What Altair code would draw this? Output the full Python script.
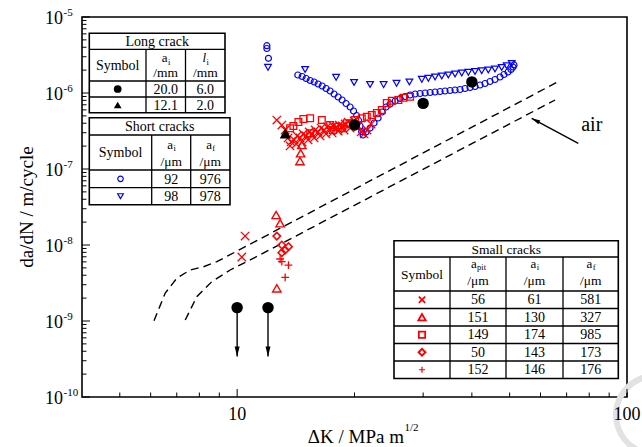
import altair as alt
import pandas as pd

FONT = "Liberation Serif"
BLUE = "#0000ff"
RED = "#ff0000"
W, H = 545, 380  # plot area in pixels

# ---------------- data: dK [MPa m^1/2] and da/dN [m/cycle] ----------------
# Short crack, a_i = 92 um (open circles)
sc92_dk = [11.92, 11.92, 12.03, 14.31, 14.68, 15.03, 15.39, 15.76, 16.13, 16.52, 16.91, 17.32,
           17.73, 18.16, 18.59, 19.03, 19.49, 19.89, 20.25, 20.49, 20.67, 20.86,
           21.04, 21.42, 21.93, 22.45, 22.99, 23.54, 24.10, 24.68, 25.42, 26.18, 26.97, 27.77,
           28.61, 29.46, 30.35, 31.26, 32.19, 33.15, 34.14, 35.17, 36.22, 37.30, 38.42, 39.57,
           40.76, 41.98, 43.24, 44.53, 45.86, 47.24, 48.36, 49.52, 50.41, 51.01, 51.31]
sc92_rate = [4.19e-6, 3.85e-6, 2.86e-6, 1.725e-6, 1.649e-6, 1.552e-6, 1.461e-6, 1.395e-6, 1.314e-6,
             1.236e-6, 1.146e-6, 1.062e-6, 9.70e-7, 8.86e-7, 8.09e-7, 7.27e-7, 6.54e-7, 5.80e-7,
             5.06e-7, 4.35e-7, 3.68e-7, 3.11e-7,
             2.80e-7, 3.07e-7, 3.46e-7, 4.03e-7, 4.69e-7, 5.62e-7, 6.54e-7, 7.16e-7, 7.84e-7,
             8.46e-7, 8.99e-7, 9.41e-7, 9.70e-7, 9.85e-7, 1.0e-6, 1.015e-6, 1.031e-6, 1.046e-6,
             1.062e-6, 1.079e-6, 1.095e-6, 1.112e-6, 1.146e-6, 1.181e-6, 1.218e-6, 1.275e-6,
             1.334e-6, 1.416e-6, 1.505e-6, 1.624e-6, 1.751e-6, 1.889e-6, 2.04e-6, 2.20e-6, 2.34e-6]

# Short crack, a_i = 98 um (open down-triangles)
sc98_dk = [12.0, 14.94, 17.94, 19.95, 21.93, 23.75, 25.64, 27.66, 29.76, 30.94, 32.19, 33.49,
           34.82, 36.22, 37.68, 39.18, 40.76, 42.40, 44.09, 45.86, 47.71, 49.14, 50.62]
sc98_rate = [2.18e-6, 2.04e-6, 1.61e-6, 1.375e-6, 1.294e-6, 1.29e-6, 1.342e-6, 1.395e-6, 1.514e-6,
             1.561e-6, 1.624e-6, 1.674e-6, 1.725e-6, 1.778e-6, 1.833e-6, 1.872e-6, 1.918e-6,
             1.965e-6, 2.008e-6, 2.07e-6, 2.166e-6, 2.288e-6, 2.445e-6]

# Long crack a_i = 20.0 mm (filled circles); the first two did not grow
lc20_dk = [10, 12, 20, 30, 40]
lc20_rate = [1.5e-9, 1.5e-9, 3.8e-7, 7.3e-7, 1.4e-6]
runout_dk = [10, 12]
runout_from = 1.5e-9
runout_to = 3.4e-10

# Long crack a_i = 12.1 mm (filled triangle)
lc12_dk = [13.3]
lc12_rate = [2.93e-7]

# Small cracks
sm56_dk = [12.64, 13.02, 13.28, 13.51, 13.75, 14.0, 14.25, 14.51, 14.77, 15.03, 15.30, 15.57,
           15.85, 16.13, 16.42, 16.71, 17.01, 17.32, 17.62, 17.94, 18.26, 18.59, 18.92, 19.26,
           19.61, 19.95, 20.43, 20.79, 21.17, 21.54, 22.06, 10.48, 10.28,
           13.67, 14.17, 14.68, 15.21, 15.76, 16.33, 16.91, 17.52, 18.16, 18.81, 19.49]
sm56_rate = [4.41e-7, 3.79e-7, 3.26e-7, 2.56e-7, 2.27e-7, 2.41e-7, 2.72e-7, 2.56e-7, 2.89e-7,
             2.72e-7, 3.07e-7, 2.89e-7, 3.26e-7, 3.07e-7, 3.46e-7, 3.26e-7, 3.57e-7, 3.46e-7,
             3.68e-7, 3.57e-7, 3.79e-7, 3.68e-7, 3.91e-7, 4.15e-7, 3.91e-7, 4.28e-7, 3.68e-7,
             3.07e-7, 2.89e-7, 3.26e-7, 3.91e-7, 1.31e-8, 6.95e-9,
             2.01e-7, 2.13e-7, 2.27e-7, 2.41e-7, 2.56e-7, 2.72e-7, 2.89e-7, 2.98e-7, 3.16e-7,
             3.26e-7, 3.46e-7]

sm149_dk = [13.67, 13.94, 14.36, 14.79, 15.39, 16.49, 17.32, 18.19, 19.11, 20.07, 20.88, 21.51,
            22.15, 22.82, 23.50, 24.20, 24.93, 25.92, 26.70, 27.77, 15.39, 17.62, 18.55]
sm149_rate = [3.43e-7, 3.68e-7, 4.15e-7, 4.55e-7, 4.65e-7, 4.41e-7, 3.79e-7, 3.60e-7, 3.99e-7,
              4.41e-7, 4.65e-7, 4.88e-7, 5.13e-7, 5.45e-7, 5.97e-7, 7.38e-7, 7.92e-7, 8.09e-7,
              8.67e-7, 8.94e-7, 2.95e-7, 3.26e-7, 3.43e-7]

sm151_dk = [14.65, 14.55, 14.49, 12.59, 12.89, 12.64]
sm151_rate = [2.07e-7, 1.61e-7, 1.27e-7, 2.48e-8, 1.93e-8, 2.69e-9]

sm50_dk = [12.64, 13.02, 13.54, 13.02, 13.28]
sm50_rate = [1.31e-8, 1.0e-8, 9.5e-9, 7.92e-9, 8.59e-9]

sm152_dk = [13.02, 12.89, 13.54, 13.28]
sm152_rate = [6.03e-9, 6.54e-9, 5.45e-9, 3.76e-9]

# Long-crack growth in air (two bounding curves)
air1_dk = [6.12, 6.54, 7.00, 7.58, 8.20, 8.87, 66.6]
air1_rate = [1.01e-9, 2.33e-9, 3.65e-9, 4.69e-9, 5.18e-9, 6.03e-9, 1.41e-6]
air2_dk = [7.36, 7.88, 8.61, 9.60, 10.8, 65.4]
air2_rate = [1.03e-9, 2.09e-9, 3.29e-9, 4.69e-9, 6.35e-9, 8.09e-7]
air_arrow_dk = [75.0, 56.95]
air_arrow_rate = [2.18e-7, 4.65e-7]
air_label = "air"
air_label_dk, air_label_rate = 81.2, 3.79e-7

# Table contents
long_ai = ["20.0", "12.1"]
long_li = ["6.0", "2.0"]
short_ai = ["92", "98"]
short_af = ["976", "978"]
small_apit = ["56", "151", "149", "50", "152"]
small_ai = ["61", "130", "174", "143", "146"]
small_af = ["581", "327", "985", "173", "176"]

# Axis ticks
x_major = [10, 100]
x_minor = [5, 6, 7, 8, 9, 20, 30, 40, 50, 60, 70, 80, 90]
y_major = [1e-10, 1e-9, 1e-8, 1e-7, 1e-6, 1e-5]
y_sup = ["-10", "-9", "-8", "-7", "-6", "-5"]
y_minor = [k * 10.0 ** e for e in range(-10, -5) for k in range(2, 10)]

# ---------------- helpers ----------------
XS = alt.Scale(type="log", domain=[4, 100], nice=False)
YS = alt.Scale(type="log", domain=[1e-10, 1e-5], nice=False)

X_PATH = "M -1 -1 L 1 1 M -1 1 L 1 -1"
PLUS_PATH = "M -1 0 L 1 0 M 0 -1 L 0 1"
HEAD_PATH = "M -0.25 -1 L 0.25 -1 L 0 0 Z"


def xy(dk, rate):
    return pd.DataFrame({"dk": dk, "rate": rate})


def series(dk, rate, shape, color, size, filled=False, sw=1.2):
    return alt.Chart(xy(dk, rate)).mark_point(
        shape=shape, filled=filled, size=size, strokeWidth=sw, color=color, opacity=1
    ).encode(x=alt.X("dk:Q", scale=XS, axis=None), y=alt.Y("rate:Q", scale=YS, axis=None))


def px_symbols(items, shape, color, size, filled=False, sw=1.2):
    df = pd.DataFrame(items, columns=["px", "py"])
    return alt.Chart(df).mark_point(
        shape=shape, filled=filled, size=size, strokeWidth=sw, color=color, opacity=1
    ).encode(x=alt.X("px:Q", scale=None, axis=None), y=alt.Y("py:Q", scale=None, axis=None))


def px_text(items, size, align="center", italic=False, baseline="alphabetic", angle=None):
    df = pd.DataFrame(items, columns=["px", "py", "t"])
    opts = dict(font=FONT, fontSize=size, align=align, baseline=baseline, color="black")
    if italic:
        opts["fontStyle"] = "italic"
    if angle is not None:
        opts["angle"] = angle
    return alt.Chart(df).mark_text(**opts).encode(
        x=alt.X("px:Q", scale=None, axis=None), y=alt.Y("py:Q", scale=None, axis=None),
        text="t:N")


def px_rules(segs, sw=1.3):
    df = pd.DataFrame(segs, columns=["x1", "y1", "x2", "y2"])
    return alt.Chart(df).mark_rule(color="black", strokeWidth=sw).encode(
        x=alt.X("x1:Q", scale=None, axis=None), y=alt.Y("y1:Q", scale=None, axis=None),
        x2="x2:Q", y2="y2:Q")


def px_box(x1, y1, x2, y2):
    df = pd.DataFrame({"x1": [x1], "y1": [y1], "x2": [x2], "y2": [y2]})
    return alt.Chart(df).mark_rect(fill="white", stroke="black", strokeWidth=1.6).encode(
        x=alt.X("x1:Q", scale=None, axis=None), y=alt.Y("y1:Q", scale=None, axis=None),
        x2="x2:Q", y2="y2:Q")


def header(cx, y_a, y_unit, sub, unit, italic=False):
    """Column header such as a_i over /mm."""
    sub_w = {"i": 2.4, "f": 2.8, "pit": 8.6}[sub]
    a_w = 4.0 if italic else 6.2
    left = cx - (a_w + sub_w) / 2
    return [
        px_text([(left + a_w, y_a, "l" if italic else "a")], 13, align="right", italic=italic),
        px_text([(left + a_w + 0.3, y_a + 2.5, sub)], 8.5, align="left"),
        px_text([(cx, y_unit, unit)], 13.5),
    ]


layers = []

# faint circular emblem in the lower right corner
layers.append(alt.Chart(pd.DataFrame({"k": [0]})).mark_arc(
    innerRadius=36, outerRadius=42, theta=3.55, theta2=6.15, color="#e2e2e2"
).encode(x=alt.value(573), y=alt.value(398)))

# air curves
for dk, rate in [(air1_dk, air1_rate), (air2_dk, air2_rate)]:
    layers.append(alt.Chart(xy(dk, rate)).mark_line(
        color="black", strokeWidth=1.4, strokeDash=[8, 5]
    ).encode(x=alt.X("dk:Q", scale=XS, axis=None), y=alt.Y("rate:Q", scale=YS, axis=None)))

# arrow pointing at the air curves
arr = pd.DataFrame({"dk": [air_arrow_dk[0]], "rate": [air_arrow_rate[0]],
                    "dk2": [air_arrow_dk[1]], "rate2": [air_arrow_rate[1]]})
layers.append(alt.Chart(arr).mark_rule(color="black", strokeWidth=1.4).encode(
    x=alt.X("dk:Q", scale=XS, axis=None), y=alt.Y("rate:Q", scale=YS, axis=None),
    x2="dk2:Q", y2="rate2:Q"))
layers.append(alt.Chart(xy([air_arrow_dk[1]], [air_arrow_rate[1]])).mark_point(
    shape=HEAD_PATH, size=300, filled=True, color="black", opacity=1, angle=118
).encode(x=alt.X("dk:Q", scale=XS, axis=None), y=alt.Y("rate:Q", scale=YS, axis=None)))
layers.append(alt.Chart(xy([air_label_dk], [air_label_rate])).mark_text(
    font=FONT, fontSize=20, color="black"
).encode(x=alt.X("dk:Q", scale=XS, axis=None), y=alt.Y("rate:Q", scale=YS, axis=None),
         text=alt.value(air_label)))

# run-out arrows below the two lowest long-crack points
ro = pd.DataFrame({"dk": runout_dk, "top": [runout_from] * 2, "bot": [runout_to] * 2})
layers.append(alt.Chart(ro).mark_rule(color="black", strokeWidth=1.4).encode(
    x=alt.X("dk:Q", scale=XS, axis=None), y=alt.Y("top:Q", scale=YS, axis=None), y2="bot:Q"))
layers.append(alt.Chart(ro).mark_point(
    shape=HEAD_PATH, size=400, filled=True, color="black", opacity=1
).encode(x=alt.X("dk:Q", scale=XS, axis=None), y=alt.Y("bot:Q", scale=YS, axis=None)))

# short cracks (blue)
layers.append(series(sc92_dk, sc92_rate, "circle", BLUE, 36))
layers.append(series(sc98_dk, sc98_rate, "triangle-down", BLUE, 45))

# small cracks (red)
layers.append(series(sm56_dk, sm56_rate, X_PATH, RED, 70, sw=1.3))
layers.append(series(sm151_dk, sm151_rate, "triangle-up", RED, 70, sw=1.4))
layers.append(series(sm149_dk, sm149_rate, "square", RED, 45, sw=1.3))
layers.append(series(sm50_dk, sm50_rate, "diamond", RED, 55, sw=1.6))
layers.append(series(sm152_dk, sm152_rate, PLUS_PATH, RED, 60, sw=1.3))

# long cracks (black, filled)
layers.append(series(lc20_dk, lc20_rate, "circle", "black", 130, filled=True))
layers.append(series(lc12_dk, lc12_rate, "triangle-up", "black", 130, filled=True))

# ---------------- tables ----------------
# Long crack
layers.append(px_box(7.3, 16.3, 143, 95.7))
layers.append(px_rules([(7.3, 32.3, 143, 32.3), (7.3, 64, 143, 64), (7.3, 80, 143, 80),
                        (64, 32.3, 64, 95.7), (103.5, 32.3, 103.5, 95.7)]))
layers.append(px_text([(75.2, 29, "Long crack"), (35.7, 52.5, "Symbol")], 14))
layers += header(83.7, 45, 60, "i", "/mm")
layers += header(123.3, 45, 60, "i", "/mm", italic=True)
layers.append(px_text([(83.7, 76.7, long_ai[0]), (123.3, 76.7, long_li[0]),
                       (83.7, 92.5, long_ai[1]), (123.3, 92.5, long_li[1])], 14))
layers.append(px_symbols([(35.7, 72)], "circle", "black", 60, filled=True))
layers.append(px_symbols([(35.7, 88)], "triangle-up", "black", 60, filled=True))

# Short cracks
layers.append(px_box(7.3, 100.7, 148, 187.7))
layers.append(px_rules([(7.3, 118, 148, 118), (7.3, 153, 148, 153), (7.3, 170.7, 148, 170.7),
                        (69.7, 118, 69.7, 187.7), (108.7, 118, 108.7, 187.7)]))
layers.append(px_text([(77.7, 114, "Short cracks"), (38.5, 140, "Symbol")], 14))
layers += header(89.2, 131.5, 149, "i", "/\u03bcm")
layers += header(128.3, 131.5, 149, "f", "/\u03bcm")
layers.append(px_text([(89.2, 166.5, short_ai[0]), (128.3, 166.5, short_af[0]),
                       (89.2, 183.9, short_ai[1]), (128.3, 183.9, short_af[1])], 14))
layers.append(px_symbols([(38.5, 161.8)], "circle", BLUE, 30))
layers.append(px_symbols([(38.5, 179.2)], "triangle-down", BLUE, 32))

# Small cracks
layers.append(px_box(312, 223.7, 536.3, 361.5))
small_rows = [274, 291.5, 309, 326.5, 344, 361.5]
segs = [(312, 240, 536.3, 240)] + [(312, r, 536.3, r) for r in small_rows[:-1]]
segs += [(c, 240, c, 361.5) for c in (368, 424, 481)]
layers.append(px_rules(segs))
layers.append(px_text([(424.2, 236.5, "Small cracks"), (340, 261.5, "Symbol")], 13.5))
layers += header(396, 250.5, 268, "pit", "/\u03bcm")
layers += header(452.5, 250.5, 268, "i", "/\u03bcm")
layers += header(508.7, 250.5, 268, "f", "/\u03bcm")
cells = []
for i in range(5):
    yb = (small_rows[i] + small_rows[i + 1]) / 2 + 4.7
    cells += [(396, yb, small_apit[i]), (452.5, yb, small_ai[i]), (508.7, yb, small_af[i])]
layers.append(px_text(cells, 14))
sym_y = [(small_rows[i] + small_rows[i + 1]) / 2 for i in range(5)]
layers.append(px_symbols([(340, sym_y[0])], X_PATH, RED, 40, sw=1.8))
layers.append(px_symbols([(340, sym_y[1])], "triangle-up", RED, 55, sw=1.8))
layers.append(px_symbols([(340, sym_y[2])], "square", RED, 40, sw=1.8))
layers.append(px_symbols([(340, sym_y[3])], "diamond", RED, 45, sw=2))
layers.append(px_symbols([(340, sym_y[4])], PLUS_PATH, RED, 36, sw=1.2))

# ---------------- axes (inward ticks, labels, titles) ----------------
def xticks(vals, length):
    return alt.Chart(pd.DataFrame({"v": vals})).mark_rule(color="black", strokeWidth=1).encode(
        x=alt.X("v:Q", scale=XS, axis=None), y=alt.value(H), y2=alt.value(H - length))


def yticks(vals, length):
    return alt.Chart(pd.DataFrame({"v": vals})).mark_rule(color="black", strokeWidth=1).encode(
        y=alt.Y("v:Q", scale=YS, axis=None), x=alt.value(0), x2=alt.value(length))


layers += [xticks(x_major, 8), xticks(x_minor, 4.5), yticks(y_major, 8), yticks(y_minor, 4.5)]

ylab = pd.DataFrame({"v": y_major, "base": ["10"] * 6, "sup": y_sup})
layers.append(alt.Chart(ylab).mark_text(
    font=FONT, fontSize=18, align="right", baseline="middle", color="black", dy=2
).encode(x=alt.value(-19), y=alt.Y("v:Q", scale=YS, axis=None), text="base:N"))
layers.append(alt.Chart(ylab).mark_text(
    font=FONT, fontSize=11, align="left", baseline="middle", color="black", dy=-4
).encode(x=alt.value(-18.5), y=alt.Y("v:Q", scale=YS, axis=None), text="sup:N"))

xlab = pd.DataFrame({"v": x_major, "t": ["10", "100"]})
layers.append(alt.Chart(xlab).mark_text(
    font=FONT, fontSize=18, baseline="middle", color="black"
).encode(x=alt.X("v:Q", scale=XS, axis=None), y=alt.value(H + 18), text="t:N"))

layers.append(px_text([(-55, H / 2, "da/dN / m/cycle")], 19, baseline="middle", angle=270))
layers.append(px_text([(322, 420, "\u0394K / MPa m")], 19, align="right", baseline="middle"))
layers.append(px_text([(322.5, 411, "1/2")], 11, align="left", baseline="middle"))

chart = alt.layer(*layers).properties(
    width=W, height=H,
    padding={"left": 82, "top": 17, "right": 15, "bottom": 50},
    autosize=alt.AutoSizeParams(type="none"),
).configure_view(stroke="black", strokeWidth=1.6)

chart.save("out.html", embed_options={"renderer": "svg", "actions": False})
